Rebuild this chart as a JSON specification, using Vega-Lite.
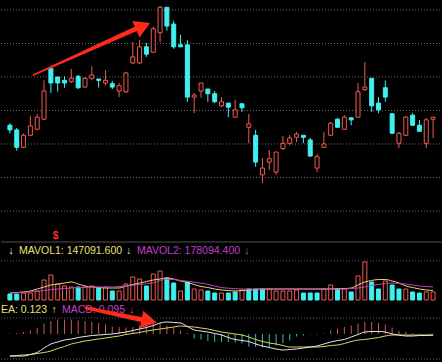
{
"$schema": "https://vega.github.io/schema/vega-lite/v6.json",
"background": "#000000",
"padding": 0,
"spacing": 0,
"config": {"view": {"stroke": null}, "concat": {"spacing": 0}},
"datasets": {
"k": [
{"i":0,"o":11.28,"h":11.31,"l":11.16,"c":11.21,"v":102000,"vu":0,"m1":119000,"m2":119000,"dif":-0.44,"dea":-0.44,"macd":0.01},
{"i":1,"o":11.21,"h":11.24,"l":10.90,"c":10.95,"v":102000,"vu":0,"m1":127500,"m2":124100,"dif":-0.44,"dea":-0.43,"macd":0.02},
{"i":2,"o":10.95,"h":11.16,"l":10.94,"c":11.13,"v":119000,"vu":1,"m1":136000,"m2":130900,"dif":-0.44,"dea":-0.42,"macd":0.04},
{"i":3,"o":11.13,"h":11.42,"l":11.12,"c":11.27,"v":119000,"vu":1,"m1":153000,"m2":136000,"dif":-0.41,"dea":-0.41,"macd":0.07},
{"i":4,"o":11.22,"h":11.45,"l":11.21,"c":11.40,"v":153000,"vu":1,"m1":187000,"m2":149600,"dif":-0.37,"dea":-0.39,"macd":0.12},
{"i":5,"o":11.37,"h":11.95,"l":11.36,"c":11.79,"v":340000,"vu":1,"m1":221000,"m2":161500,"dif":-0.28,"dea":-0.37,"macd":0.21},
{"i":6,"o":12.13,"h":12.15,"l":11.76,"c":11.91,"v":425000,"vu":1,"m1":255000,"m2":178500,"dif":-0.20,"dea":-0.34,"macd":0.26},
{"i":7,"o":12.00,"h":12.00,"l":11.78,"c":11.91,"v":272000,"vu":1,"m1":272000,"m2":187000,"dif":-0.16,"dea":-0.29,"macd":0.29},
{"i":8,"o":11.95,"h":12.01,"l":11.84,"c":11.91,"v":238000,"vu":1,"m1":289000,"m2":195500,"dif":-0.12,"dea":-0.25,"macd":0.29},
{"i":9,"o":11.93,"h":12.12,"l":11.91,"c":11.98,"v":221000,"vu":1,"m1":306000,"m2":204000,"dif":-0.10,"dea":-0.20,"macd":0.29},
{"i":10,"o":12.01,"h":12.03,"l":11.82,"c":11.84,"v":221000,"vu":0,"m1":272000,"m2":209100,"dif":-0.07,"dea":-0.17,"macd":0.27},
{"i":11,"o":11.85,"h":12.00,"l":11.84,"c":11.98,"v":221000,"vu":1,"m1":238000,"m2":215900,"dif":-0.05,"dea":-0.14,"macd":0.26},
{"i":12,"o":11.98,"h":12.16,"l":11.95,"c":12.03,"v":238000,"vu":1,"m1":221000,"m2":221000,"dif":-0.03,"dea":-0.12,"macd":0.24},
{"i":13,"o":11.97,"h":11.97,"l":11.84,"c":11.95,"v":204000,"vu":0,"m1":212500,"m2":221000,"dif":-0.02,"dea":-0.10,"macd":0.22},
{"i":14,"o":11.91,"h":12.10,"l":11.87,"c":11.95,"v":221000,"vu":1,"m1":204000,"m2":221000,"dif":-0.01,"dea":-0.08,"macd":0.19},
{"i":15,"o":11.90,"h":11.94,"l":11.82,"c":11.85,"v":153000,"vu":0,"m1":204000,"m2":221000,"dif":0.00,"dea":-0.06,"macd":0.15},
{"i":16,"o":11.79,"h":11.91,"l":11.70,"c":11.87,"v":153000,"vu":1,"m1":204000,"m2":229500,"dif":0.02,"dea":-0.04,"macd":0.14},
{"i":17,"o":11.78,"h":12.07,"l":11.76,"c":12.06,"v":272000,"vu":1,"m1":238000,"m2":238000,"dif":0.04,"dea":-0.01,"macd":0.13},
{"i":18,"o":12.21,"h":12.52,"l":12.19,"c":12.30,"v":391000,"vu":1,"m1":263500,"m2":249900,"dif":0.07,"dea":0.01,"macd":0.14},
{"i":19,"o":12.21,"h":12.55,"l":12.19,"c":12.45,"v":357000,"vu":1,"m1":289000,"m2":263500,"dif":0.10,"dea":0.03,"macd":0.17},
{"i":20,"o":12.45,"h":12.51,"l":12.30,"c":12.34,"v":238000,"vu":0,"m1":314500,"m2":277100,"dif":0.13,"dea":0.06,"macd":0.21},
{"i":21,"o":12.37,"h":12.75,"l":12.36,"c":12.72,"v":442000,"vu":1,"m1":340000,"m2":292400,"dif":0.17,"dea":0.08,"macd":0.24},
{"i":22,"o":12.66,"h":13.06,"l":12.52,"c":13.04,"v":493000,"vu":1,"m1":357000,"m2":331500,"dif":0.22,"dea":0.10,"macd":0.22},
{"i":23,"o":13.04,"h":13.04,"l":12.69,"c":12.76,"v":374000,"vu":0,"m1":374000,"m2":351900,"dif":0.24,"dea":0.12,"macd":0.17},
{"i":24,"o":12.79,"h":12.84,"l":12.42,"c":12.45,"v":289000,"vu":0,"m1":357000,"m2":348500,"dif":0.23,"dea":0.14,"macd":0.13},
{"i":25,"o":12.48,"h":12.63,"l":12.45,"c":12.45,"v":153000,"vu":1,"m1":323000,"m2":331500,"dif":0.22,"dea":0.16,"macd":0.07},
{"i":26,"o":12.48,"h":12.55,"l":11.63,"c":11.70,"v":306000,"vu":0,"m1":297500,"m2":319600,"dif":0.15,"dea":0.15,"macd":0.02},
{"i":27,"o":11.70,"h":11.76,"l":11.46,"c":11.73,"v":187000,"vu":1,"m1":263500,"m2":302600,"dif":0.08,"dea":0.14,"macd":-0.09},
{"i":28,"o":11.79,"h":11.91,"l":11.69,"c":11.91,"v":170000,"vu":1,"m1":229500,"m2":285600,"dif":0.06,"dea":0.12,"macd":-0.11},
{"i":29,"o":11.82,"h":11.82,"l":11.63,"c":11.75,"v":153000,"vu":0,"m1":212500,"m2":266900,"dif":0.04,"dea":0.10,"macd":-0.14},
{"i":30,"o":11.75,"h":11.79,"l":11.61,"c":11.63,"v":119000,"vu":0,"m1":187000,"m2":238000,"dif":0.01,"dea":0.07,"macd":-0.16},
{"i":31,"o":11.57,"h":11.70,"l":11.55,"c":11.63,"v":119000,"vu":1,"m1":170000,"m2":212500,"dif":-0.02,"dea":0.04,"macd":-0.16},
{"i":32,"o":11.61,"h":11.61,"l":11.40,"c":11.55,"v":119000,"vu":0,"m1":161500,"m2":200600,"dif":-0.07,"dea":0.02,"macd":-0.16},
{"i":33,"o":11.40,"h":11.66,"l":11.39,"c":11.51,"v":136000,"vu":0,"m1":153000,"m2":192100,"dif":-0.11,"dea":0.00,"macd":-0.17},
{"i":34,"o":11.60,"h":11.60,"l":11.48,"c":11.54,"v":170000,"vu":1,"m1":161500,"m2":187000,"dif":-0.13,"dea":-0.02,"macd":-0.19},
{"i":35,"o":11.25,"h":11.45,"l":11.01,"c":11.30,"v":187000,"vu":0,"m1":170000,"m2":187000,"dif":-0.15,"dea":-0.06,"macd":-0.25},
{"i":36,"o":11.13,"h":11.21,"l":10.66,"c":10.73,"v":187000,"vu":0,"m1":178500,"m2":187000,"dif":-0.20,"dea":-0.11,"macd":-0.26},
{"i":37,"o":10.54,"h":10.79,"l":10.42,"c":10.64,"v":187000,"vu":0,"m1":187000,"m2":187000,"dif":-0.24,"dea":-0.15,"macd":-0.27},
{"i":38,"o":10.73,"h":10.91,"l":10.61,"c":10.78,"v":187000,"vu":1,"m1":187000,"m2":187000,"dif":-0.27,"dea":-0.18,"macd":-0.26},
{"i":39,"o":10.58,"h":10.88,"l":10.54,"c":10.88,"v":153000,"vu":1,"m1":187000,"m2":187000,"dif":-0.30,"dea":-0.20,"macd":-0.23},
{"i":40,"o":10.93,"h":11.12,"l":10.91,"c":11.01,"v":153000,"vu":1,"m1":187000,"m2":187000,"dif":-0.32,"dea":-0.23,"macd":-0.18},
{"i":41,"o":11.01,"h":11.13,"l":10.98,"c":11.09,"v":153000,"vu":1,"m1":187000,"m2":187000,"dif":-0.31,"dea":-0.26,"macd":-0.13},
{"i":42,"o":11.10,"h":11.18,"l":11.03,"c":11.15,"v":170000,"vu":1,"m1":187000,"m2":187000,"dif":-0.30,"dea":-0.26,"macd":-0.05},
{"i":43,"o":11.13,"h":11.13,"l":11.01,"c":11.10,"v":119000,"vu":0,"m1":187000,"m2":187000,"dif":-0.28,"dea":-0.26,"macd":-0.03},
{"i":44,"o":11.06,"h":11.09,"l":10.81,"c":10.82,"v":119000,"vu":0,"m1":187000,"m2":187000,"dif":-0.26,"dea":-0.26,"macd":-0.01},
{"i":45,"o":10.64,"h":10.85,"l":10.58,"c":10.81,"v":119000,"vu":0,"m1":187000,"m2":187000,"dif":-0.24,"dea":-0.26,"macd":-0.01},
{"i":46,"o":10.95,"h":11.18,"l":10.94,"c":11.00,"v":187000,"vu":1,"m1":187000,"m2":187000,"dif":-0.20,"dea":-0.25,"macd":0.01},
{"i":47,"o":11.13,"h":11.33,"l":11.12,"c":11.31,"v":255000,"vu":1,"m1":187000,"m2":187000,"dif":-0.16,"dea":-0.23,"macd":0.07},
{"i":48,"o":11.37,"h":11.39,"l":11.24,"c":11.25,"v":187000,"vu":0,"m1":195500,"m2":187000,"dif":-0.13,"dea":-0.22,"macd":0.11},
{"i":49,"o":11.22,"h":11.43,"l":11.21,"c":11.40,"v":187000,"vu":1,"m1":195500,"m2":187000,"dif":-0.11,"dea":-0.19,"macd":0.14},
{"i":50,"o":11.39,"h":11.40,"l":11.28,"c":11.36,"v":136000,"vu":0,"m1":204000,"m2":195500,"dif":-0.06,"dea":-0.15,"macd":0.17},
{"i":51,"o":11.40,"h":11.91,"l":11.40,"c":11.78,"v":408000,"vu":1,"m1":255000,"m2":204000,"dif":-0.01,"dea":-0.12,"macd":0.21},
{"i":52,"o":11.81,"h":12.22,"l":11.79,"c":11.85,"v":646000,"vu":1,"m1":306000,"m2":221000,"dif":0.04,"dea":-0.11,"macd":0.24},
{"i":53,"o":11.98,"h":11.98,"l":11.48,"c":11.57,"v":306000,"vu":0,"m1":331500,"m2":246500,"dif":0.05,"dea":-0.09,"macd":0.24},
{"i":54,"o":11.61,"h":11.70,"l":11.46,"c":11.51,"v":187000,"vu":0,"m1":348500,"m2":263500,"dif":0.05,"dea":-0.07,"macd":0.22},
{"i":55,"o":11.84,"h":11.95,"l":11.63,"c":11.70,"v":323000,"vu":1,"m1":348500,"m2":280500,"dif":0.04,"dea":-0.04,"macd":0.19},
{"i":56,"o":11.45,"h":11.46,"l":11.15,"c":11.16,"v":255000,"vu":0,"m1":323000,"m2":289000,"dif":0.00,"dea":-0.02,"macd":0.13},
{"i":57,"o":11.01,"h":11.18,"l":10.94,"c":11.16,"v":187000,"vu":0,"m1":289000,"m2":280500,"dif":-0.02,"dea":-0.02,"macd":0.06},
{"i":58,"o":11.13,"h":11.42,"l":11.12,"c":11.40,"v":187000,"vu":1,"m1":238000,"m2":272000,"dif":-0.04,"dea":-0.02,"macd":0.04},
{"i":59,"o":11.43,"h":11.46,"l":11.27,"c":11.28,"v":136000,"vu":0,"m1":212500,"m2":255000,"dif":-0.04,"dea":-0.02,"macd":0.02},
{"i":60,"o":11.28,"h":11.36,"l":11.18,"c":11.19,"v":119000,"vu":0,"m1":187000,"m2":238000,"dif":-0.03,"dea":-0.02,"macd":0.01},
{"i":61,"o":11.01,"h":11.39,"l":10.94,"c":11.36,"v":136000,"vu":1,"m1":170000,"m2":229500,"dif":-0.03,"dea":-0.02,"macd":0.01},
{"i":62,"o":11.37,"h":11.40,"l":11.09,"c":11.40,"v":136000,"vu":1,"m1":161500,"m2":221000,"dif":-0.02,"dea":-0.02,"macd":0.01}
],
"pg": [{"g":10.0},{"g":10.5},{"g":11.0},{"g":11.5},{"g":12.0},{"g":12.5},{"g":13.0}],
"a1": [{"i":3.44,"p":12.03},{"i":18.47,"p":12.72}],
"h1": [{"i":19.5,"p":12.76}],
"a2": [{"i":11.2,"m":0.52},{"i":19.19,"m":0.29}],
"h2": [{"i":20.4,"m":0.26}]
},
"vconcat": [
{
"width": 442, "height": 241,
"layer": [
{"data": {"name": "pg"}, "mark": {"type": "rule", "color": "#707070", "strokeDash": [1, 2], "strokeWidth": 1},
 "encoding": {"y": {"field": "g", "type": "quantitative", "scale": {"domain": [9.552, 13.149], "nice": false, "zero": false}, "axis": null}}},
{"data": {"name": "k"}, "mark": {"type": "rule", "strokeWidth": 1},
 "encoding": {
  "x": {"field": "i", "type": "quantitative", "scale": {"domain": [-0.573, 62.72], "nice": false, "zero": false}, "axis": null},
  "y": {"field": "l", "type": "quantitative", "scale": {"domain": [9.552, 13.149], "nice": false, "zero": false}, "axis": null},
  "y2": {"field": "h"},
  "color": {"condition": {"test": "datum.c >= datum.o", "value": "#f05a50"}, "value": "#40f0f0"}}},
{"data": {"name": "k"}, "mark": {"type": "bar", "size": 4, "strokeWidth": 1},
 "encoding": {
  "x": {"field": "i", "type": "quantitative", "scale": {"domain": [-0.573, 62.72], "nice": false, "zero": false}, "axis": null},
  "y": {"field": "o", "type": "quantitative", "scale": {"domain": [9.552, 13.149], "nice": false, "zero": false}, "axis": null},
  "y2": {"field": "c"},
  "fill": {"condition": {"test": "datum.c >= datum.o", "value": "#000000"}, "value": "#40f0f0"},
  "stroke": {"condition": {"test": "datum.c >= datum.o", "value": "#f05a50"}, "value": "#40f0f0"}}},
{"data": {"name": "a1"}, "mark": {"type": "trail", "color": "#ff2a1a"},
 "encoding": {
  "x": {"field": "i", "type": "quantitative", "scale": {"domain": [-0.573, 62.72], "nice": false, "zero": false}, "axis": null},
  "y": {"field": "p", "type": "quantitative", "scale": {"domain": [9.552, 13.149], "nice": false, "zero": false}, "axis": null},
  "size": {"field": "i", "type": "quantitative", "scale": {"type": "linear", "zero": false, "range": [1.5, 5]}, "legend": null}}},
{"data": {"name": "h1"}, "mark": {"type": "point", "shape": "triangle-right", "filled": true, "size": 320, "angle": 336, "color": "#ff2a1a", "opacity": 1},
 "encoding": {
  "x": {"field": "i", "type": "quantitative", "scale": {"domain": [-0.573, 62.72], "nice": false, "zero": false}, "axis": null},
  "y": {"field": "p", "type": "quantitative", "scale": {"domain": [9.552, 13.149], "nice": false, "zero": false}, "axis": null}}},
{"data": {"values": [{"t": "$", "x": 6.7, "y": 9.63}]}, "mark": {"type": "text", "color": "#ff3030", "fontSize": 10, "fontWeight": "bold", "font": "Liberation Sans", "baseline": "middle", "align": "center"},
 "encoding": {
  "x": {"field": "x", "type": "quantitative", "scale": {"domain": [-0.573, 62.72], "nice": false, "zero": false}, "axis": null},
  "y": {"field": "y", "type": "quantitative", "scale": {"domain": [9.552, 13.149], "nice": false, "zero": false}, "axis": null},
  "text": {"field": "t"}}}
]
},
{
"width": 442, "height": 58,
"layer": [
{"data": {"values": [{"g": 986000}]}, "mark": {"type": "rule", "color": "#505050", "strokeWidth": 1},
 "encoding": {"y": {"field": "g", "type": "quantitative", "scale": {"domain": [0, 986000], "nice": false}, "axis": null}}},
{"data": {"values": [{"g": 663000}]}, "mark": {"type": "rule", "color": "#606060", "strokeDash": [1, 2], "strokeWidth": 1},
 "encoding": {"y": {"field": "g", "type": "quantitative", "scale": {"domain": [0, 986000], "nice": false}, "axis": null}}},
{"data": {"name": "k"}, "mark": {"type": "bar", "size": 4, "strokeWidth": 1},
 "encoding": {
  "x": {"field": "i", "type": "quantitative", "scale": {"domain": [-0.573, 62.72], "nice": false, "zero": false}, "axis": null},
  "y": {"field": "v", "type": "quantitative", "scale": {"domain": [0, 986000], "nice": false}, "axis": null},
  "fill": {"condition": {"test": "datum.vu == 1", "value": "#000000"}, "value": "#40f0f0"},
  "stroke": {"condition": {"test": "datum.vu == 1", "value": "#f05a50"}, "value": "#40f0f0"}}},
{"data": {"name": "k"}, "mark": {"type": "line", "color": "#e8d870", "strokeWidth": 1, "interpolate": "monotone"},
 "encoding": {
  "x": {"field": "i", "type": "quantitative", "scale": {"domain": [-0.573, 62.72], "nice": false, "zero": false}, "axis": null},
  "y": {"field": "m1", "type": "quantitative", "scale": {"domain": [0, 986000], "nice": false}, "axis": null}}},
{"data": {"name": "k"}, "mark": {"type": "line", "color": "#c040c8", "strokeWidth": 1, "interpolate": "monotone"},
 "encoding": {
  "x": {"field": "i", "type": "quantitative", "scale": {"domain": [-0.573, 62.72], "nice": false, "zero": false}, "axis": null},
  "y": {"field": "m2", "type": "quantitative", "scale": {"domain": [0, 986000], "nice": false}, "axis": null}}},
{"data": {"values": [
  {"t": "↓", "x": -0.19, "y": 833000, "k": "a"},
  {"t": "MAVOL1: 147091.600", "x": 1.33, "y": 833000, "k": "b"},
  {"t": "↓", "x": 17.0, "y": 833000, "k": "b"},
  {"t": "MAVOL2: 178094.400", "x": 18.61, "y": 833000, "k": "c"},
  {"t": "↓", "x": 34.32, "y": 833000, "k": "c"}]},
 "mark": {"type": "text", "align": "left", "baseline": "middle", "font": "Liberation Sans", "fontSize": 10.5},
 "encoding": {
  "x": {"field": "x", "type": "quantitative", "scale": {"domain": [-0.573, 62.72], "nice": false, "zero": false}, "axis": null},
  "y": {"field": "y", "type": "quantitative", "scale": {"domain": [0, 986000], "nice": false}, "axis": null},
  "text": {"field": "t"},
  "color": {"field": "k", "type": "nominal", "scale": {"domain": ["a", "b", "c"], "range": ["#e8e8e8", "#e8e070", "#c040c8"]}, "legend": null}}}
]
},
{
"width": 442, "height": 63,
"layer": [
{"data": {"values": [{"g": 0.32}, {"g": -0.5}]}, "mark": {"type": "rule", "color": "#606060", "strokeDash": [1, 2], "strokeWidth": 1},
 "encoding": {"y": {"field": "g", "type": "quantitative", "scale": {"domain": [-0.6, 0.66], "nice": false, "zero": false}, "axis": null}}},
{"data": {"name": "k"}, "mark": {"type": "bar", "size": 1},
 "encoding": {
  "x": {"field": "i", "type": "quantitative", "scale": {"domain": [-0.573, 62.72], "nice": false, "zero": false}, "axis": null},
  "y": {"field": "macd", "type": "quantitative", "scale": {"domain": [-0.6, 0.66], "nice": false, "zero": false}, "axis": null},
  "color": {"condition": {"test": "datum.macd >= 0", "value": "#c85a55"}, "value": "#30c0b0"}}},
{"data": {"name": "k"}, "mark": {"type": "line", "color": "#d8d860", "strokeWidth": 1, "interpolate": "monotone"},
 "encoding": {
  "x": {"field": "i", "type": "quantitative", "scale": {"domain": [-0.573, 62.72], "nice": false, "zero": false}, "axis": null},
  "y": {"field": "dea", "type": "quantitative", "scale": {"domain": [-0.6, 0.66], "nice": false, "zero": false}, "axis": null}}},
{"data": {"name": "k"}, "mark": {"type": "line", "color": "#e8e8f4", "strokeWidth": 1, "interpolate": "monotone"},
 "encoding": {
  "x": {"field": "i", "type": "quantitative", "scale": {"domain": [-0.573, 62.72], "nice": false, "zero": false}, "axis": null},
  "y": {"field": "dif", "type": "quantitative", "scale": {"domain": [-0.6, 0.66], "nice": false, "zero": false}, "axis": null}}},
{"data": {"values": [
  {"t": "DEA: 0.123", "x": 5.44, "y": 0.48, "k": "b"}]},
 "mark": {"type": "text", "align": "right", "baseline": "middle", "font": "Liberation Sans", "fontSize": 10.5, "clip": true},
 "encoding": {
  "x": {"field": "x", "type": "quantitative", "scale": {"domain": [-0.573, 62.72], "nice": false, "zero": false}, "axis": null},
  "y": {"field": "y", "type": "quantitative", "scale": {"domain": [-0.6, 0.66], "nice": false, "zero": false}, "axis": null},
  "text": {"field": "t"},
  "color": {"field": "k", "type": "nominal", "scale": {"domain": ["a", "b", "c"], "range": ["#e8e8e8", "#e0e070", "#a840c8"]}, "legend": null}}},
{"data": {"values": [
  {"t": "↑", "x": 6.11, "y": 0.48, "k": "b"},
  {"t": "MACD: 0.095", "x": 7.63, "y": 0.48, "k": "c"},
  {"t": "↓", "x": 17.47, "y": 0.48, "k": "c"}]},
 "mark": {"type": "text", "align": "left", "baseline": "middle", "font": "Liberation Sans", "fontSize": 10.5},
 "encoding": {
  "x": {"field": "x", "type": "quantitative", "scale": {"domain": [-0.573, 62.72], "nice": false, "zero": false}, "axis": null},
  "y": {"field": "y", "type": "quantitative", "scale": {"domain": [-0.6, 0.66], "nice": false, "zero": false}, "axis": null},
  "text": {"field": "t"},
  "color": {"field": "k", "type": "nominal", "scale": {"domain": ["a", "b", "c"], "range": ["#e8e8e8", "#e0e070", "#a840c8"]}, "legend": null}}},
{"data": {"name": "a2"}, "mark": {"type": "trail", "color": "#ff2a1a"},
 "encoding": {
  "x": {"field": "i", "type": "quantitative", "scale": {"domain": [-0.573, 62.72], "nice": false, "zero": false}, "axis": null},
  "y": {"field": "m", "type": "quantitative", "scale": {"domain": [-0.6, 0.66], "nice": false, "zero": false}, "axis": null},
  "size": {"field": "i", "type": "quantitative", "scale": {"type": "linear", "zero": false, "range": [1.5, 5]}, "legend": null}}},
{"data": {"name": "h2"}, "mark": {"type": "point", "shape": "triangle-right", "filled": true, "size": 320, "angle": 10.6, "color": "#ff2a1a", "opacity": 1},
 "encoding": {
  "x": {"field": "i", "type": "quantitative", "scale": {"domain": [-0.573, 62.72], "nice": false, "zero": false}, "axis": null},
  "y": {"field": "m", "type": "quantitative", "scale": {"domain": [-0.6, 0.66], "nice": false, "zero": false}, "axis": null}}}
]
}
]
}
